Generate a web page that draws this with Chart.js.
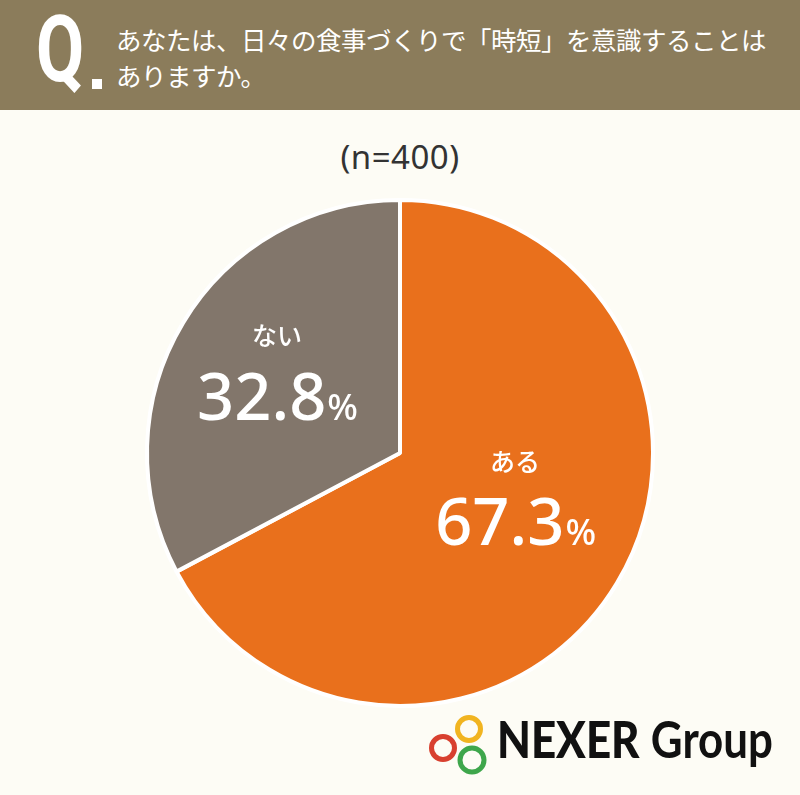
<!DOCTYPE html>
<html lang="ja">
<head>
<meta charset="utf-8">
<script src="https://cdn.jsdelivr.net/npm/chart.js@4.4.1/dist/chart.umd.min.js"></script>
<style>
  html, body { margin:0; padding:0; }
  body { width:800px; height:795px; background:#fdfcf5; position:relative; overflow:hidden; font-family:"Noto Sans CJK JP","Noto Sans",sans-serif; }
  #header { position:absolute; left:0; top:0; width:800px; height:110px; background:#8b7c5b; }
  #q { position:absolute; left:36px; top:4px; font-family:Roboto,"Noto Sans",sans-serif; font-weight:700; font-size:92px; color:#fff; line-height:1; transform:scaleX(0.76); transform-origin:left top; }
  #qdot { position:absolute; left:92px; top:79px; width:10px; height:10px; background:#fff; }
  #qtext { position:absolute; left:116px; top:21px; color:#fff; font-size:25.5px; line-height:36px; font-weight:400; letter-spacing:-0.5px; white-space:nowrap; }
  #n { position:absolute; left:0; width:800px; top:134px; text-align:center; font-family:"Noto Sans","Noto Sans CJK JP",sans-serif; font-size:33px; color:#333; letter-spacing:0.5px; }
  #wrap { position:absolute; left:0; top:190px; width:800px; height:526px; }
  #logo { position:absolute; left:420px; top:700px; width:380px; height:95px; }
  #logotext { position:absolute; left:497px; top:713px; font-family:Lato,"Noto Sans",sans-serif; color:#111; font-size:51px; line-height:1; white-space:nowrap; transform-origin:left top; }
  #logotext b { font-weight:900; }
  #logotext span { font-weight:700; }
</style>
</head>
<body>
<div id="header">
  <div id="q">Q</div>
  <div id="qdot"></div>
  <div id="qtext">あなたは、日々の食事づくりで「時短」を意識することは<br>ありますか。</div>
</div>
<div id="n">(n=400)</div>
<div id="wrap"><canvas id="c"></canvas></div>
<svg id="logo" width="380" height="95" viewBox="0 0 380 95">
  <circle cx="49" cy="29" r="11.5" fill="none" stroke="#f1b420" stroke-width="5"/>
  <circle cx="23" cy="48" r="11.5" fill="none" stroke="#d8402f" stroke-width="5"/>
  <circle cx="52" cy="60" r="12" fill="none" stroke="#3ea64b" stroke-width="5"/>
</svg>
<div id="logotext"><b>NEXER</b> <span>Group</span></div>
<script>
const categories = ['ある', 'ない'];
const values = [67.3, 32.8];
const sliceColors = ['#e9701c', '#82766b'];
const labelOffsets = [[0.455, 0.155], [-0.486, -0.34]];

(function fitLogo() {
  const el = document.getElementById('logotext');
  const w = el.getBoundingClientRect().width;
  el.style.transform = 'scaleX(' + (276 / w) + ')';
})();

const labelPlugin = {
  id: 'sliceLabels',
  afterDatasetsDraw(chart) {
    const ctx = chart.ctx;
    const meta = chart.getDatasetMeta(0);
    meta.data.forEach((arc, i) => {
      const p = arc.getProps(['x', 'y', 'outerRadius'], true);
      const cx = p.x + labelOffsets[i][0] * p.outerRadius;
      const cy = p.y + labelOffsets[i][1] * p.outerRadius;
      ctx.save();
      ctx.fillStyle = '#ffffff';
      ctx.textBaseline = 'middle';
      ctx.textAlign = 'center';
      ctx.font = '500 25px "Noto Sans CJK JP", sans-serif';
      ctx.fillText(categories[i], cx, cy - 31);
      const num = String(values[i]);
      const numFont = '500 65px "Noto Sans", "Noto Sans CJK JP", sans-serif';
      const pctFont = '500 36px "Noto Sans", "Noto Sans CJK JP", sans-serif';
      ctx.font = numFont;
      const wn = ctx.measureText(num).width;
      ctx.font = pctFont;
      const wp = ctx.measureText('%').width;
      const x0 = cx - (wn + wp) / 2;
      ctx.textAlign = 'left';
      ctx.textBaseline = 'alphabetic';
      const base = cy + 53;
      ctx.font = numFont;
      ctx.fillText(num, x0, base);
      ctx.font = pctFont;
      ctx.fillText('%', x0 + wn + 1, base);
      ctx.restore();
    });
  }
};

new Chart(document.getElementById('c'), {
  type: 'pie',
  data: {
    labels: categories,
    datasets: [{
      data: values,
      backgroundColor: sliceColors,
      borderColor: '#ffffff',
      borderWidth: 4,
      hoverOffset: 0
    }]
  },
  options: {
    responsive: true,
    maintainAspectRatio: false,
    animation: false,
    radius: 253,
    plugins: { legend: { display: false }, tooltip: { enabled: false } },
    layout: { padding: 0 }
  },
  plugins: [labelPlugin]
});
</script>
</body>
</html>
